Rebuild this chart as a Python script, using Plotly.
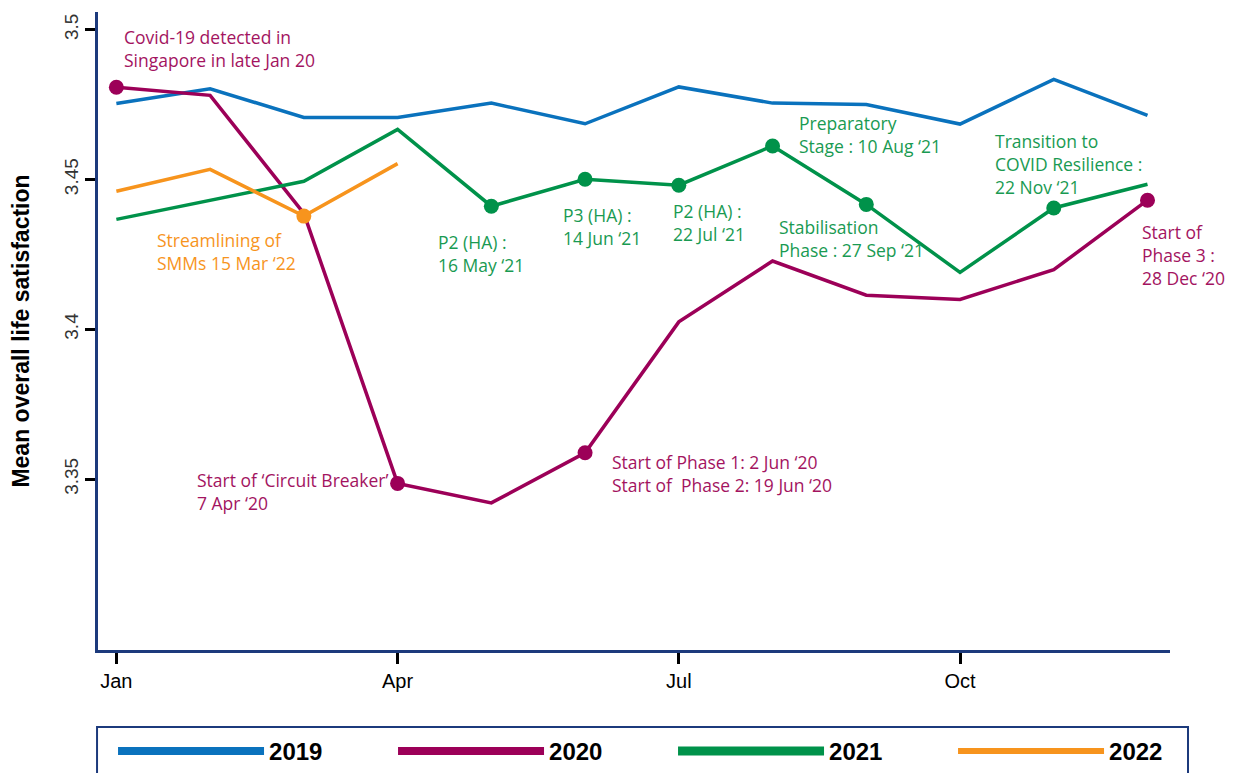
import plotly.graph_objects as go

months = list(range(1, 13))
month_ticks = [1, 4, 7, 10]
month_labels = ["Jan", "Apr", "Jul", "Oct"]

y2019 = [3.4754, 3.4803, 3.4707, 3.4707, 3.4755, 3.4686, 3.4809, 3.4755, 3.4750, 3.4685, 3.4834, 3.4714]
y2020 = [3.4808, 3.4781, 3.4387, 3.3486, 3.3421, 3.3588, 3.4025, 3.4228, 3.4114, 3.4100, 3.4199, 3.4431]
y2021 = [3.4367, 3.4431, 3.4494, 3.4667, 3.4411, 3.4501, 3.4481, 3.4612, 3.4417, 3.4190, 3.4405, 3.4484]
y2022 = [3.4461, 3.4534, 3.4378, 3.4553]
months2022 = [1, 2, 3, 4]

marks2020 = [1, 4, 6, 12]
marks2021 = [5, 6, 7, 8, 9, 11]
marks2022 = [3]

C19 = "#0a72bd"
C20 = "#9c0058"
C21 = "#00924a"
C22 = "#f7941d"
T20 = "#a3145f"
T21 = "#199a52"
T22 = "#f7941d"
NAVY = "#1c3a7c"

FONT = "Liberation Sans Narrow, Liberation Sans, Arial Narrow, sans-serif"
AFONT = "Open Sans, Liberation Sans, Arial, sans-serif"

fig = go.Figure()

def add_series(x, y, color, marks, name):
    fig.add_trace(go.Scatter(x=x, y=y, mode="lines", line=dict(color=color, width=3.5),
                             showlegend=False, hoverinfo="skip", name=name))
    if marks:
        mx = [m for m in marks]
        my = [y[x.index(m)] for m in marks]
        fig.add_trace(go.Scatter(x=mx, y=my, mode="markers",
                                 marker=dict(color=color, size=15),
                                 showlegend=False, hoverinfo="skip"))

add_series(months, y2019, C19, [], "2019")
add_series(months, y2020, C20, marks2020, "2020")
add_series(months, y2021, C21, marks2021, "2021")
add_series(months2022, y2022, C22, marks2022, "2022")

# legend-only entries with thicker lines
for name, color, w in [("2019", C19, 8), ("2020", C20, 8), ("2021", C21, 9), ("2022", C22, 6)]:
    fig.add_trace(go.Scatter(x=[None], y=[None], mode="lines", name=name,
                             line=dict(color=color, width=w)))

annotations = [
    (1.057, 3.4938, "Covid-19 detected in<br>Singapore in late Jan 20", T20),
    (1.409, 3.4259, "Streamlining of<br>SMMs 15 Mar \u201822", T22),
    (1.836, 3.3458, "Start of \u2018Circuit Breaker\u2019<br>7 Apr \u201820", T20),
    (4.408, 3.4254, "P2 (HA) :<br>16 May \u201821", T21),
    (5.742, 3.4344, "P3 (HA) :<br>14 Jun \u201821", T21),
    (6.916, 3.4357, "P2 (HA) :<br>22 Jul \u201821", T21),
    (8.260, 3.4649, "Preparatory<br>Stage : 10 Aug \u201821", T21),
    (8.047, 3.4302, "Stabilisation<br>Phase : 27 Sep \u201821", T21),
    (10.352, 3.4551, "Transition to<br>COVID Resilience :<br>22 Nov \u201821", T21),
    (11.921, 3.4247, "Start of<br>Phase 3 :<br>28 Dec \u201820", T20),
    (6.265, 3.3520, "Start of Phase 1: 2 Jun \u201820<br>Start of  Phase 2: 19 Jun \u201820", T20),
]
for x, y, text, col in annotations:
    fig.add_annotation(x=x, y=y, xref="x", yref="y", text=text, showarrow=False,
                       xanchor="left", yanchor="middle", align="left",
                       font=dict(family=AFONT, size=17.5, color=col))

# legend frame
fig.add_shape(type="rect", xref="paper", yref="paper",
              x0=-0.0009, x1=1.0168, y0=-0.3, y1=-0.1207,
              line=dict(color=NAVY, width=2), fillcolor="rgba(0,0,0,0)", layer="above")

fig.update_layout(
    width=1241, height=773,
    margin=dict(l=90, r=79, t=4, b=131),
    paper_bgcolor="white", plot_bgcolor="white",
    showlegend=True,
    legend=dict(orientation="h", x=1.0588, xref="paper", xanchor="right",
                y=-0.1238, yref="paper", yanchor="top",
                bgcolor="rgba(0,0,0,0)", borderwidth=0,
                itemwidth=146, entrywidth=119, entrywidthmode="pixels",
                font=dict(family=FONT, size=24, color="black", weight="bold"),
                traceorder="normal"),
    xaxis=dict(range=[0.804, 12.24], tickmode="array", tickvals=month_ticks, ticktext=month_labels,
               automargin=False,
               showgrid=False, zeroline=False, showline=True, linecolor=NAVY, linewidth=2.5,
               ticks="outside", ticklen=11, tickwidth=2.5, tickcolor="black",
               tickfont=dict(family=FONT, size=20, color="black")),
    yaxis=dict(range=[3.293, 3.5059], tickmode="array", tickvals=[3.35, 3.4, 3.45, 3.5],
               ticktext=["3.35", "3.4", "3.45", "3.5"], tickangle=-90,
               automargin=False,
               showgrid=False, zeroline=False, showline=True, linecolor=NAVY, linewidth=2.5,
               ticks="outside", ticklen=10, tickwidth=2.5, tickcolor="black",
               tickfont=dict(family=FONT, size=19, color="#333333"),
               title=dict(text="Mean overall life satisfaction", standoff=32,
                          font=dict(family=FONT, size=23, color="black", weight="bold"))),
)

fig.write_html("out.html")
